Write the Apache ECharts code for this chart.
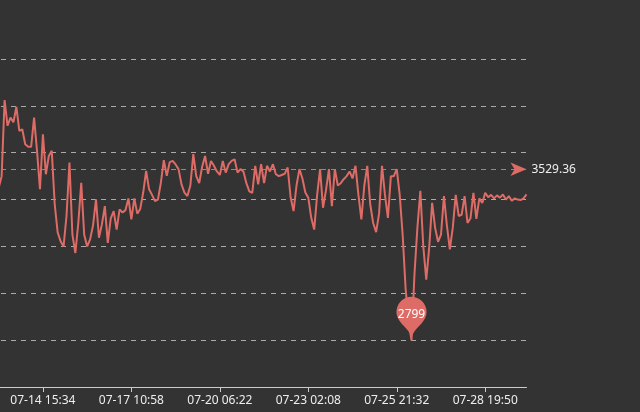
<!DOCTYPE html>
<html>
<head>
<meta charset="utf-8">
<script src="https://cdn.jsdelivr.net/npm/echarts@6/dist/echarts.min.js"></script>
<style>
  html, body { margin: 0; padding: 0; background: #333; overflow: hidden; }
  #wrap { position: absolute; left: 0; top: 0; width: 640px; height: 412px; overflow: hidden; background: #333; }
  #chart { position: absolute; left: -40px; top: 0; width: 680px; height: 412px; }
</style>
</head>
<body>
<div id="wrap"><div id="chart"></div></div>
<script>
// Tick labels shown on the x axis (every 30th sample)
const tickLabels = ['07-14 15:34', '07-17 10:58', '07-20 06:22', '07-23 02:08', '07-25 21:32', '07-28 19:50'];
const tickEvery = 30;
const firstTick = 21;

// Series values
const values = [
  3650, 3720, 3600, 3680, 3560, 3500, 3450, 3500, 3825, 3715,
  3750, 3730, 3796, 3693, 3700, 3636, 3625, 3625, 3750, 3608,
  3444, 3679, 3508, 3586, 3608, 3380, 3260, 3222, 3200, 3330,
  3558, 3250, 3172, 3300, 3472, 3250, 3200, 3230, 3290, 3401,
  3237, 3294, 3372, 3215, 3320, 3351, 3272, 3358, 3345, 3355,
  3405, 3315, 3405, 3340, 3360, 3429, 3522, 3444, 3420, 3394,
  3400, 3472, 3568, 3501, 3560, 3565, 3550, 3530, 3465, 3430,
  3415, 3460, 3594, 3500, 3470, 3540, 3586, 3510, 3565, 3544,
  3520, 3505, 3565, 3515, 3551, 3565, 3572, 3515, 3530, 3520,
  3470, 3435, 3429, 3544, 3465, 3551, 3470, 3544, 3520, 3551,
  3508, 3500, 3505, 3510, 3537, 3410, 3351, 3460, 3530, 3490,
  3430, 3408, 3322, 3272, 3420, 3530, 3365, 3440, 3530, 3372,
  3530, 3460, 3470, 3487, 3500, 3520, 3490, 3544, 3420, 3315,
  3460, 3544, 3380, 3300, 3261, 3340, 3544, 3420, 3322, 3500,
  3500, 3530, 3420, 3250, 3020, 2880, 2799, 3080, 3280, 3437,
  3200, 3058, 3195, 3386, 3280, 3220, 3250, 3415, 3290, 3187,
  3280, 3420, 3330, 3335, 3415, 3300, 3320, 3429, 3318, 3405,
  3385, 3429, 3410, 3420, 3405, 3418, 3408, 3422, 3400, 3415,
  3395, 3405, 3400, 3398, 3405, 3422
];

// Average line value as shown on the chart
const averageValue = 3529.36;

const categories = values.map((v, i) => {
  const k = (i - firstTick) / tickEvery;
  return (Number.isInteger(k) && k >= 0 && k < tickLabels.length) ? tickLabels[k] : '';
});
const isLabelled = (i, name) => name !== '';

const chart = echarts.init(document.getElementById('chart'), null, { renderer: 'canvas' });
chart.setOption({
  backgroundColor: '#333',
  animation: false,
  textStyle: { fontFamily: '"Noto Sans", "Open Sans", sans-serif' },
  grid: { left: 21, right: 113.5, top: 59, bottom: 25 },
  xAxis: {
    type: 'category',
    boundaryGap: false,
    data: categories,
    axisLine: { lineStyle: { color: '#ccc', width: 1 } },
    axisTick: { interval: isLabelled, length: 5, lineStyle: { color: '#ccc' } },
    axisLabel: { interval: isLabelled, color: '#eee', fontSize: 12, margin: 8 },
    splitLine: { show: false }
  },
  yAxis: {
    type: 'value',
    min: 2600,
    max: 4000,
    interval: 200,
    axisLine: { show: false },
    axisTick: { show: false },
    axisLabel: { show: false },
    splitLine: { lineStyle: { color: '#aaa', type: [5, 5], width: 1 } }
  },
  series: [{
    type: 'line',
    data: values,
    showSymbol: false,
    symbol: 'none',
    lineStyle: { color: '#dd6b66', width: 2 },
    itemStyle: { color: '#dd6b66' },
    markPoint: {
      symbol: 'pin',
      symbolSize: 50,
      data: [{ type: 'min', name: '最小值' }],
      label: { color: '#fff', fontSize: 12 }
    },
    markLine: {
      symbol: ['circle', 'arrow'],
      symbolSize: [10, 16],
      lineStyle: { color: '#dd6b66', type: [5, 5], width: 1 },
      label: { color: '#eee', fontSize: 12, position: 'end' },
      data: [{ yAxis: averageValue, name: '平均值' }]
    }
  }]
});
</script>
</body>
</html>
